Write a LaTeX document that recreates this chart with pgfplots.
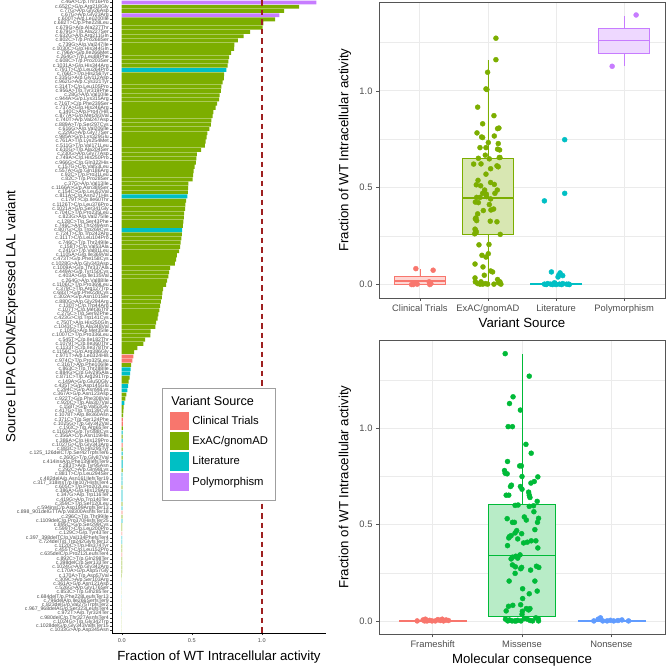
\documentclass[border=0pt]{standalone}
\usepackage{pgfplots}
\pgfplotsset{compat=1.18}
\usepackage{pgfplotstable}
\usepgfplotslibrary{statistics}
\usepackage{fontspec}
\setmainfont{Liberation Sans}
\definecolor{cCT}{HTML}{F8766D}
\definecolor{cEX}{HTML}{7CAE00}
\definecolor{cLT}{HTML}{00BFC4}
\definecolor{cPM}{HTML}{C77CFF}
\definecolor{cMS}{HTML}{00BA38}
\definecolor{cNS}{HTML}{619CFF}
\definecolor{gtxt}{HTML}{4D4D4D}
\definecolor{ggrid}{HTML}{EBEBEB}
\definecolor{gframe}{HTML}{555555}
\definecolor{dred}{HTML}{9E2020}

% ---------- bar data: row index k (0 = top), value v ----------
\pgfplotstableread{
k v
0 1.39
3 1.126
}\barPM
\pgfplotstableread{
k v
84 0.083
85 0.076
99 0.009
100 0.008
105 0.0066
121 0.004
126 0.0032
131 0.0028
}\barCT
\pgfplotstableread{
k v
16 0.748
46 0.469
54 0.431
87 0.064
88 0.060
91 0.045
92 0.040
95 0.019
102 0.0072
104 0.0068
107 0.0062
109 0.006
110 0.0058
112 0.0053
113 0.0052
114 0.005
116 0.0048
117 0.0046
118 0.0045
120 0.0042
123 0.004
127 0.003
128 0.003
138 0
141 0
145 0
}\barLT
\pgfplotstableread{
k v
1 1.267
2 1.16
4 1.095
5 1.012
6 1.007
7 0.917
8 0.871
9 0.829
10 0.805
11 0.802
12 0.781
13 0.767
14 0.762
15 0.757
17 0.731
18 0.729
19 0.721
20 0.712
21 0.708
22 0.700
23 0.695
24 0.681
25 0.671
26 0.655
27 0.650
28 0.640
29 0.636
30 0.626
31 0.612
32 0.607
33 0.600
34 0.593
35 0.567
36 0.536
37 0.533
38 0.529
39 0.521
40 0.514
41 0.510
42 0.507
43 0.476
44 0.474
45 0.472
47 0.460
48 0.455
49 0.452
50 0.445
51 0.443
52 0.440
53 0.436
55 0.429
56 0.426
57 0.420
58 0.417
59 0.410
60 0.393
61 0.388
62 0.379
63 0.345
64 0.338
65 0.333
66 0.324
67 0.317
68 0.295
69 0.290
70 0.286
71 0.279
72 0.274
73 0.269
74 0.262
75 0.257
76 0.245
77 0.240
78 0.207
79 0.205
80 0.167
81 0.155
82 0.112
83 0.088
86 0.067
89 0.057
90 0.050
93 0.033
94 0.026
96 0.014
97 0.012
98 0.010
101 0.0075
103 0.007
106 0.0065
108 0.006
111 0.0055
115 0.005
119 0.0045
122 0.004
124 0.0035
125 0.0035
129 0.003
130 0.003
132 0.0025
133 0.0025
134 0.002
135 0.002
136 0.0015
137 0
139 0
140 0
142 0
143 0
144 0
146 0
147 0
148 0
149 0
}\barEX

% ---------- jittered points, top-right (by variant source) ----------
\pgfplotstableread{
x y
0.941 0.082
1.195 0.074
0.902 0
0.932 0.009
0.878 0
1.137 0.014
1.146 0
1.161 0.005
0.961 0.002
}\ptCT
\pgfplotstableread{
x y
2.117 1.272
2.117 1.161
1.995 1.096
1.971 1.010
1.985 1.007
1.849 0.916
2.088 0.872
1.922 0.830
2.161 0.808
2.141 0.805
1.839 0.783
1.907 0.762
1.922 0.759
2.093 0.767
2.005 0.733
2.151 0.728
1.883 0.707
1.971 0.707
2.141 0.699
2.171 0.695
1.961 0.668
1.859 0.652
2.166 0.656
2.176 0.656
2.020 0.649
1.790 0.622
1.898 0.623
2.132 0.613
2.151 0.608
2.039 0.598
1.971 0.570
1.854 0.538
2.039 0.527
2.093 0.517
1.829 0.515
1.893 0.510
1.951 0.488
2.137 0.488
1.922 0.471
1.976 0.467
2.102 0.471
1.834 0.450
1.883 0.450
1.980 0.454
2.039 0.442
1.815 0.426
1.859 0.423
2.020 0.413
1.932 0.382
2.044 0.385
2.083 0.390
1.849 0.365
1.824 0.344
1.815 0.339
1.834 0.330
2.034 0.327
2.132 0.324
1.810 0.286
1.820 0.279
1.829 0.271
2.180 0.259
1.805 0.262
1.868 0.205
2.015 0.207
2.005 0.159
1.912 0.151
1.971 0.142
1.810 0.106
1.927 0.091
2.039 0.070
2.068 0.065
1.946 0.048
1.810 0.034
1.815 0.014
1.898 0.014
2.141 0.026
2.176 0.014
2.156 0.009
1.995 0.002
1.849 0.005
1.922 0.002
2.088 0.002
2.190 0.002
1.883 0.002
1.961 0.005
}\ptEX
\pgfplotstableread{
x y
2.829 0.432
3.127 0.471
3.127 0.748
2.932 0.065
3.059 0.060
3.039 0.048
3.098 0.046
3.029 0.039
2.829 0.002
2.878 0.005
2.922 0.002
2.976 0.009
3.049 0.002
3.098 0.005
3.156 0.002
3.195 0
3.185 0.002
2.854 0
2.951 0
3.000 0
3.083 0
}\ptLT
\pgfplotstableread{
x y
4.176 1.392
3.824 1.127
}\ptPM

% ---------- jittered points, bottom-right (by molecular consequence) ----------
\pgfplotstableread{
x y
0.827 0
0.893 0.005
0.919 0.009
0.937 0
0.967 0.003
0.993 0
1.030 0
1.059 0.007
1.085 0.002
1.122 0
1.151 0.005
1.177 0.002
0.911 0
1.107 0.009
}\ptFS
\pgfplotstableread{
x y
1.812 1.388
2.081 1.271
1.900 1.164
1.860 1.129
1.982 1.095
1.845 1.009
1.893 1.009
2.044 0.917
2.103 0.871
1.838 0.828
1.974 0.805
1.993 0.805
1.804 0.781
1.812 0.767
1.834 0.764
2.000 0.750
2.177 0.748
2.137 0.724
2.100 0.716
1.882 0.705
1.871 0.698
1.982 0.698
2.000 0.684
1.823 0.653
1.852 0.653
2.074 0.669
2.081 0.653
2.089 0.641
1.956 0.602
2.170 0.621
1.923 0.600
2.129 0.598
2.081 0.595
2.133 0.567
1.834 0.531
2.026 0.540
2.048 0.524
2.185 0.533
2.173 0.512
1.893 0.512
1.915 0.512
2.144 0.474
1.941 0.469
1.923 0.457
1.996 0.453
1.878 0.443
1.860 0.438
1.952 0.426
1.852 0.431
2.103 0.416
2.155 0.416
2.018 0.405
2.059 0.409
1.838 0.391
2.177 0.379
1.893 0.331
1.878 0.322
1.978 0.343
1.952 0.326
1.930 0.336
1.893 0.291
1.926 0.281
1.996 0.278
1.985 0.271
2.096 0.264
2.162 0.284
2.188 0.278
1.923 0.247
1.856 0.207
2.144 0.207
2.007 0.167
2.081 0.141
2.170 0.155
2.007 0.116
1.985 0.084
1.849 0.076
1.897 0.081
2.089 0.064
2.074 0.057
1.823 0.052
2.004 0.050
2.048 0.064
2.000 0.034
1.815 0.009
1.860 0.005
1.889 0
1.919 0
1.952 0.003
1.989 0
2.026 0.012
2.059 0.009
2.092 0.002
2.155 0.016
2.185 0
2.181 0.012
1.841 0
1.934 0
2.118 0
}\ptMS
\pgfplotstableread{
x y
2.804 0
2.852 0.009
2.878 0.016
2.904 0
2.952 0
2.989 0.003
3.026 0
3.074 0.002
3.118 0.005
3.192 0
}\ptNS

\pgfplotsset{
  rpanel/.style={
    scale only axis, width=286bp,
    axis line style={gframe, line width=0.6bp},
    tick align=outside, xtick pos=bottom, ytick pos=left,
    major tick length=3bp, minor tick length=0bp,
    tick style={gframe, line width=0.5bp},
    ymin=-0.0695, ymax=1.459,
    ytick={0,0.5,1}, yticklabels={0.0,0.5,1.0},
    minor ytick={0.25,0.75,1.25},
    grid=both,
    major grid style={ggrid, line width=0.8bp},
    minor grid style={ggrid, line width=0.4bp},
    ticklabel style={font=\fontsize{9.4}{10}\selectfont, text=gtxt},
    ylabel={Fraction of WT Intracellular activity},
    every axis y label/.style={at={(axis description cs:-0.119,0.5)}, rotate=90, anchor=center, font=\fontsize{13.3}{14}\selectfont},
    boxplot/draw direction=y,
    boxplot/box extend=0.75,
    boxplot/whisker extend=0,
  },
  pts/.style={only marks, mark=*, mark size=2.5bp, color=#1, mark options={solid, fill=#1, draw=none}},
  med/.style={#1, line width=1.5bp},
}

\begin{document}
\begin{tikzpicture}
\useasboundingbox (0,0) rectangle (667bp,667bp);

% ================= left: horizontal bars =================
\begin{axis}[
  at={(112bp,34bp)}, anchor=south west, scale only axis,
  width=214bp, height=633bp,
  xmin=-0.0695, xmax=1.459, ymin=-0.6, ymax=149.6, y dir=reverse,
  axis x line*=bottom, axis y line*=left,
  axis line style={black, line width=0.5bp, -},
  tick align=outside, major tick length=2bp,
  tick style={black!80, line width=0.4bp},
  xtick={0,0.5,1}, xticklabels={0.0,0.5,1.0},
  xticklabel style={font=\fontsize{5.6}{6}\selectfont, text=gtxt},
  yticklabel style={font=\fontsize{5.2}{5.2}\selectfont, text=gtxt, inner sep=1bp},
  ytick={0,...,149},
  yticklabels={c.46A>C/p.Thr16Pro, c.652C>G/p.Arg218Gly, c.77G>A/p.Gly26Asp, c.67G>A/p.Gly23Arg, c.600T>A/p.Leu200Ile, c.682T>C/p.Phe228Leu, c.679G>A/p.Ala227Thr, c.679G>T/p.Ala227Ser, c.632G>A/p.Arg211Gln, c.802C>T/p.Pro268Ser, c.739G>A/p.Val247Ile, c.1030C>G/p.His344Gln, c.796A>G/p.Ile266Met, c.264G>T/p.Leu88Phe, c.608C>T/p.Pro203Ser, c.1031A>G/p.His344Arg, c.791T>C/p.Leu264Pro, c.766C>T/p.His256Tyr, c.335G>A/p.Gly112Asp, c.962G>A/p.Cys321Tyr, c.314T>C/p.Leu105Pro, c.956A>T/p.Tyr319Phe, c.28G>A/p.Val10Ile, c.944A>G/p.Lys315Arg, c.716T>C/p.Phe239Ser, c.737A>G/p.His246Arg, c.140C>A/p.Pro47His, c.877A>G/p.Met293Val, c.740T>A/p.Val247Asp, c.889A>T/p.Ser297Cys, c.616G>A/p.Val206Ile, c.229G>A/p.Gly77Ser, c.985A>G/p.Lys329Glu, c.761A>T/p.Lys254Met, c.511G>T/p.Val171Leu, c.610G>T/p.Ala204Ser, c.230G>A/p.Gly77Asp, c.749A>C/p.His250Pro, c.966G>C/p.Gln322His, c.157G>C/p.Val53Leu, c.557A>G/p.Gln186Arg, c.92C>T/p.Pro31Leu, c.82C>T/p.Pro28Ser, c.37G>A/p.Val13Ile, c.1166A>G/p.Asn389Ser, c.154C>G/p.Leu52Val, c.811A>C/p.Asn271His, c.179T>C/p.Ile60Thr, c.1126T>C/p.Leu376Pro, c.1021A>G/p.Ser341Gly, c.704C>T/p.Pro235Leu, c.823G>A/p.Val275Ile, c.128C>T/p.Ser43Phe, c.746C>A/p.Thr249Asn, c.807G>C/p.Trp269Cys, c.724T>C/p.Trp242Arg, c.311T>C/p.Leu104Pro, c.746C>T/p.Thr249Ile, c.158T>C/p.Val53Ala, c.241G>T/p.Val81Leu, c.1105A>G/p.Ile369Val, c.473T>G/p.Phe158Cys, c.1028G>A/p.Gly343Asp, c.1009A>G/p.Thr337Ala, c.449A>G/p.Tyr150Cys, c.403A>G/p.Ile135Val, c.264G>A/p.Val88Ile, c.1106C>T/p.Pro369Leu, c.379C>T/p.Arg127Trp, c.683T>G/p.Phe228Cys, c.302A>G/p.Asn101Ser, c.880G>A/p.Gly294Arg, c.130T>C/p.Trp44Arg, c.107T>C/p.Met36Thr, c.275C>T/p.Ser92Phe, c.423G>C/p.Trp141Cys, c.750T>A/p.His250Gln, c.1043C>T/p.Ala348Val, c.105G>A/p.Met35Ile, c.1007C>T/p.Pro336Leu, c.545T>C/p.Ile182Thr, c.1079T>C/p.Ile360Thr, c.1133T>C/p.Ile378Thr, c.1156C>G/p.Arg386Gly, c.971T>A/p.Leu324His, c.974C>T/p.Pro325Leu, c.316T>A/p.Phe106Ile, c.863C>T/p.Thr288Ile, c.884G>C/p.Gly295Ala, c.871C>T/p.Arg291Trp, c.149A>G/p.Glu50Gly, c.435T>G/p.Asp145Glu, c.294C>G/p.Asn98Lys, c.367A>G/p.Asn123Asp, c.922T>G/p.Phe308Val, c.920C>T/p.Ala307Val, c.158T>G/p.Val53Gly, c.417G>T/p.Trp139Cys, c.1078T>A/p.Ile360Asn, c.371C>T/p.Ser124Phe, c.1025G>T/p.Gly342Val, c.193C>T/p.Arg65Ter, c.1163A>G/p.Tyr388Cys, c.356A>C/p.Asn119His, c.386A>C/p.His129Pro, c.1027G>C/p.Gly343Arg, c.883C>T/p.His295Tyr, c.125\_126delCT/p.Ser42TrpfsTer6, c.260G>T/p.Gly87Val, c.414insA/p.Phe139IlefsTer9, c.283T>A/p.Tyr95Asn, c.292C>A/p.Gln98Lys, c.881T>C/p.Leu294Ser, c.482delA/p.Asn161IlefsTer19, c.317\_318insT/p.Ile107HisfsTer4, c.605C>T/p.Pro202Leu, c.386A>G/p.His129Arg, c.347G>A/p.Trp116Ter, c.419G>A/p.Trp140Ter, c.359C>T/p.Ser120Leu, c.594insC/p.Asp199ArgfsTer13, c.898\_901delGTTA/p.Val300AsnfsTer18, c.296C>T/p.Thr99Ile, c.1109delC/p.Pro370HisfsTer25, c.895C>G/p.Ser299Cys, c.599T>C/p.Leu200Pro, c.129C>G/p.Tyr43Ter, c.397\_398delTC/p.Val134PhefsTer4, c.724delT/p.Trp242GlyfsTer12, c.1120C>T/p.His374Tyr, c.455T>C/p.Leu152Pro, c.635delC/p.Pro212LeufsTer4, c.892C>T/p.Gln298Ter, c.398delC/p.Ser133Ter, c.1024G>A/p.Gly342Arg, c.170A>G/p.Asp57Gly, c.170A>T/p.Asp57Val, c.309C>A/p.Ser103Arg, c.361A>G/p.Asn121Asp, c.526G>A/p.Gly176Ser, c.853C>T/p.Gln285Ter, c.684delT/p.Phe228LeufsTer13, c.796delA/p.Ile266SerfsTer9, c.823delG/p.Val275TrpfsTer2, c.967\_968delAG/p.Ser323LeufsTer4, c.972T>A/p.Tyr324Ter, c.980delC/p.Thr327AsnfsTer4, c.1024G>T/p.Gly342Trp, c.1028delG/p.Gly343ValfsTer15, c.1033G>A/p.Asp345Asn},
  xlabel={Fraction of WT Intracellular activity},
  ylabel={Source LIPA CDNA/Expressed LAL variant},
  every axis x label/.style={at={(axis description cs:0.5,-0.038)}, anchor=center, font=\fontsize{13.3}{14}\selectfont},
  every axis y label/.style={at={(axis description cs:-0.467,0.5)}, rotate=90, anchor=center, font=\fontsize{13.3}{14}\selectfont},
  legend image code/.code={\path[draw=none, fill=none] (0bp,-10.15bp) rectangle (19bp,10.15bp); \fill[#1] (0bp,-9.2bp) rectangle (19bp,9.2bp);},
  legend style={at={(axis description cs:0.2336,0.387)}, anchor=north west,
    draw=gray!75, line width=0.6bp, fill=white,
    font=\fontsize{11.3}{12}\selectfont,
    inner xsep=7.7bp, inner ysep=7.8bp, row sep=0bp, column sep=3.3bp,
    nodes={inner sep=0bp}},
  legend cell align=left,
]
\addplot[xbar, bar shift=0pt, bar width=0.9, draw=none, fill=cEX, forget plot] table[x=v, y=k] {\barEX};
\addplot[xbar, bar shift=0pt, bar width=0.9, draw=none, fill=cCT, forget plot] table[x=v, y=k] {\barCT};
\addplot[xbar, bar shift=0pt, bar width=0.9, draw=none, fill=cLT, forget plot] table[x=v, y=k] {\barLT};
\addplot[xbar, bar shift=0pt, bar width=0.9, draw=none, fill=cPM, forget plot] table[x=v, y=k] {\barPM};
\addplot[color=dred, line width=1.8bp, dash pattern=on 5.5bp off 4bp, forget plot] coordinates {(1,-0.6) (1,149.6)};
\addlegendimage{legend image code/.code={\path[draw=none, fill=none] (0bp,-9.35bp) rectangle (0bp,4.6bp);}}
\addlegendentry{\hspace{-21bp}\fontsize{12.7}{13}\selectfont Variant Source}
\addlegendimage{fill=cCT, draw=none}
\addlegendentry{Clinical Trials}
\addlegendimage{fill=cEX, draw=none}
\addlegendentry{ExAC/gnomAD}
\addlegendimage{fill=cLT, draw=none}
\addlegendentry{Literature}
\addlegendimage{fill=cPM, draw=none}
\addlegendentry{Polymorphism\hspace{3bp}}
\end{axis}

% ================= top-right: by variant source =================
\begin{axis}[rpanel,
  at={(379bp,369bp)}, anchor=south west, height=296bp,
  xmin=0.4, xmax=4.6, xtick={1,2,3,4},
  xticklabels={Clinical Trials, ExAC/gnomAD, Literature, Polymorphism},
  xlabel={Variant Source},
  every axis x label/.style={at={(axis description cs:0.5,-0.083)}, anchor=center, font=\fontsize{13.3}{14}\selectfont},
]
\addplot[draw=cCT, fill=cCT!30, line width=0.7bp, boxplot prepared={draw position=1, median=0.017, lower quartile=0, upper quartile=0.043, lower whisker=0, upper whisker=0.082}] coordinates {};
\addplot[draw=cEX, fill=cEX!30, line width=0.7bp, boxplot prepared={draw position=2, median=0.447, lower quartile=0.257, upper quartile=0.654, lower whisker=0, upper whisker=1.161}] coordinates {};
\addplot[draw=cLT, fill=cLT!30, line width=0.7bp, boxplot prepared={draw position=3, median=0.003, lower quartile=0, upper quartile=0.007, lower whisker=0, upper whisker=0.016}] coordinates {};
\addplot[draw=cPM, fill=cPM!30, line width=0.7bp, boxplot prepared={draw position=4, median=1.259, lower quartile=1.192, upper quartile=1.325, lower whisker=1.127, upper whisker=1.387}] coordinates {};
\addplot[med=cCT] coordinates {(0.625,0.017) (1.375,0.017)};
\addplot[med=cEX] coordinates {(1.625,0.447) (2.375,0.447)};
\addplot[med=cLT] coordinates {(2.625,0.003) (3.375,0.003)};
\addplot[med=cPM] coordinates {(3.625,1.259) (4.375,1.259)};
\addplot[pts=cCT] table {\ptCT};
\addplot[pts=cEX] table {\ptEX};
\addplot[pts=cLT] table {\ptLT};
\addplot[pts=cPM] table {\ptPM};
\end{axis}

% ================= bottom-right: by molecular consequence =================
\begin{axis}[rpanel,
  at={(379bp,32.7bp)}, anchor=south west, height=294.3bp,
  xmin=0.4, xmax=3.6, xtick={1,2,3},
  xticklabels={Frameshift, Missense, Nonsense},
  xlabel={Molecular consequence},
  every axis x label/.style={at={(axis description cs:0.5,-0.087)}, anchor=center, font=\fontsize{13.3}{14}\selectfont},
]
\addplot[draw=cCT, fill=cCT!30, line width=0.7bp, boxplot prepared={draw position=1, median=0.002, lower quartile=0, upper quartile=0.004, lower whisker=0, upper whisker=0.009}] coordinates {};
\addplot[draw=cMS, fill=cMS!28, line width=0.7bp, boxplot prepared={draw position=2, median=0.34, lower quartile=0.026, upper quartile=0.607, lower whisker=0, upper whisker=1.388}] coordinates {};
\addplot[draw=cNS, fill=cNS!30, line width=0.7bp, boxplot prepared={draw position=3, median=0.002, lower quartile=0, upper quartile=0.004, lower whisker=0, upper whisker=0.009}] coordinates {};
\addplot[med=cCT] coordinates {(0.625,0.002) (1.375,0.002)};
\addplot[med=cMS] coordinates {(1.625,0.34) (2.375,0.34)};
\addplot[med=cNS] coordinates {(2.625,0.002) (3.375,0.002)};
\addplot[pts=cCT] table {\ptFS};
\addplot[pts=cMS] table {\ptMS};
\addplot[pts=cNS] table {\ptNS};
\end{axis}
\end{tikzpicture}
\end{document}
